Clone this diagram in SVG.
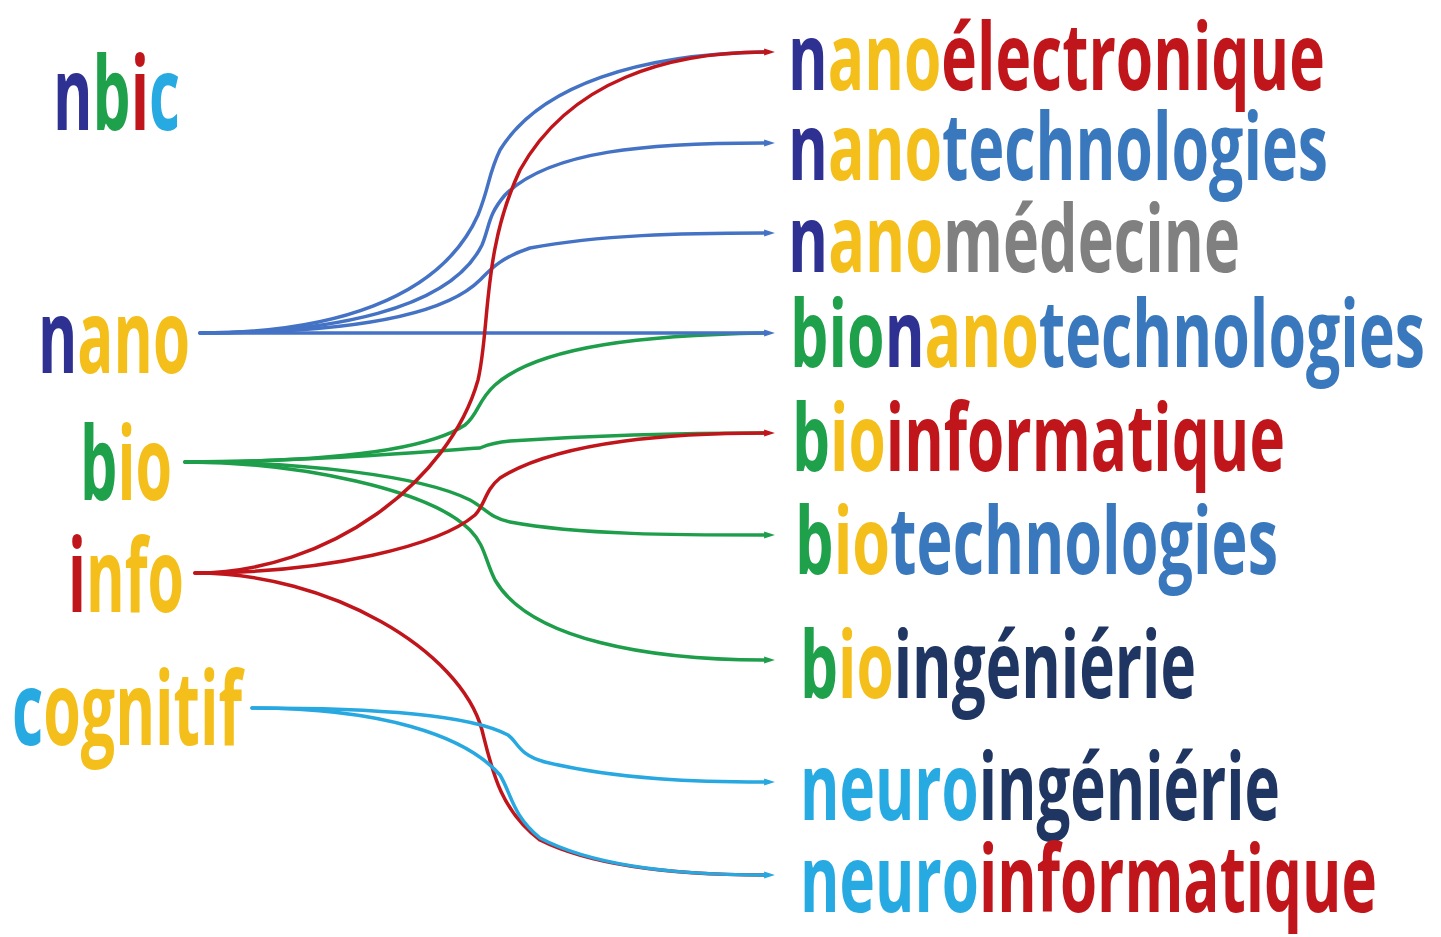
<svg xmlns="http://www.w3.org/2000/svg" width="1441" height="937" viewBox="0 0 1441 937">
<style>
text{font-family:"Open Sans","Noto Sans","DejaVu Sans",sans-serif;font-weight:700}
.L{font-size:102px}
.R{font-size:93px}
.nv{fill:#2e3192}.ye{fill:#f4bf1a}.gr{fill:#1fa04a}.rd{fill:#c0161b}.cy{fill:#27a9e1}.bl{fill:#3a78bd}.gy{fill:#808080}.dk{fill:#1f3663}
.c{fill:none;stroke-width:3.5;stroke-linecap:round}
.cb{stroke:#4472c4}.cg{stroke:#1e9e4a}.cr{stroke:#c0161b}.cc{stroke:#27a8e0}
</style>
<defs>
<marker id="ab" viewBox="0 0 12 10" refX="1" refY="5" markerWidth="11" markerHeight="9" markerUnits="userSpaceOnUse" orient="auto"><path d="M0,1 L12,5 L0,9 z" fill="#4472c4"/></marker>
<marker id="ag" viewBox="0 0 12 10" refX="1" refY="5" markerWidth="11" markerHeight="9" markerUnits="userSpaceOnUse" orient="auto"><path d="M0,1 L12,5 L0,9 z" fill="#1e9e4a"/></marker>
<marker id="ar" viewBox="0 0 12 10" refX="1" refY="5" markerWidth="11" markerHeight="9" markerUnits="userSpaceOnUse" orient="auto"><path d="M0,1 L12,5 L0,9 z" fill="#c0161b"/></marker>
<marker id="ac" viewBox="0 0 12 10" refX="1" refY="5" markerWidth="11" markerHeight="9" markerUnits="userSpaceOnUse" orient="auto"><path d="M0,1 L12,5 L0,9 z" fill="#27a8e0"/></marker>
</defs>
<rect width="1441" height="937" fill="#ffffff"/>

<g id="connectors">
<path class="c cb" d="M200,333 C330,333 440,300 478,215 C490,185 488,175 500,150 C540,85 640,54 765,52"/>
<path class="c cb" d="M200,333 C330,333 450,310 482,245 C490,225 488,215 505,195 C550,150 650,143 765,143" marker-end="url(#ab)"/>
<path class="c cb" d="M200,333 C330,333 440,320 480,280 C490,270 500,258 530,248 C600,235 680,233 765,233" marker-end="url(#ab)"/>
<path class="c cg" d="M185,462 C300,462 420,455 465,425 C478,415 478,400 495,385 C540,345 650,335 765,333"/>
<path class="c cb" d="M200,333 L765,333" marker-end="url(#ab)"/>
<path class="c cg" d="M185,462 C300,462 420,452 480,448 C485,446 490,443 510,441 C600,435 700,433 765,433"/>
<path class="c cg" d="M185,462 C300,462 420,475 470,500 C485,508 490,518 510,522 C580,535 680,535 765,535" marker-end="url(#ag)"/>
<path class="c cg" d="M185,462 C300,462 430,490 470,530 C485,545 485,560 495,580 C530,640 650,660 765,660" marker-end="url(#ag)"/>
<path class="c cr" d="M195,573 C330,573 450,480 478,380 C490,330 482,250 520,170 C570,80 670,52 765,52" marker-end="url(#ar)"/>
<path class="c cr" d="M195,573 C330,573 440,545 475,515 C485,505 485,490 500,478 C560,440 680,433 765,433" marker-end="url(#ar)"/>
<path class="c cr" d="M195,573 C330,573 460,650 482,730 C492,770 500,810 540,840 C600,870 700,875 765,875"/>
<path class="c cc" d="M252,708 C380,708 470,715 508,735 C518,742 518,755 545,762 C620,780 700,782 765,782" marker-end="url(#ac)"/>
<path class="c cc" d="M252,708 C380,708 465,735 500,775 C512,795 512,815 540,838 C600,870 700,875 765,875" marker-end="url(#ac)"/>
</g>

<g id="nbic"><text class="L" x="53" y="130" textLength="127" lengthAdjust="spacingAndGlyphs"><tspan class="nv">n</tspan><tspan class="gr">b</tspan><tspan class="rd">i</tspan><tspan class="cy">c</tspan></text></g>
<g id="nano"><text class="L" x="38" y="373" textLength="152" lengthAdjust="spacingAndGlyphs"><tspan class="nv">n</tspan><tspan class="ye">ano</tspan></text></g>
<g id="bio"><text class="L" x="80" y="500" textLength="92" lengthAdjust="spacingAndGlyphs"><tspan class="gr">b</tspan><tspan class="ye">io</tspan></text></g>
<g id="info"><text class="L" x="68" y="612" textLength="116" lengthAdjust="spacingAndGlyphs"><tspan class="rd">i</tspan><tspan class="ye">nfo</tspan></text></g>
<g id="cognitif"><text class="L" x="12" y="745" textLength="230" lengthAdjust="spacingAndGlyphs"><tspan class="cy">c</tspan><tspan class="ye">ognitif</tspan></text></g>

<g id="nanoelectronique"><text class="R" x="788" y="90" textLength="537" lengthAdjust="spacingAndGlyphs"><tspan class="nv">n</tspan><tspan class="ye">ano</tspan><tspan class="rd">électronique</tspan></text></g>
<g id="nanotechnologies"><text class="R" x="788" y="180" textLength="540" lengthAdjust="spacingAndGlyphs"><tspan class="nv">n</tspan><tspan class="ye">ano</tspan><tspan class="bl">technologies</tspan></text></g>
<g id="nanomedecine"><text class="R" x="788" y="272" textLength="452" lengthAdjust="spacingAndGlyphs"><tspan class="nv">n</tspan><tspan class="ye">ano</tspan><tspan class="gy">médecine</tspan></text></g>
<g id="bionanotechnologies"><text class="R" x="790" y="367" textLength="635" lengthAdjust="spacingAndGlyphs"><tspan class="gr">bio</tspan><tspan class="nv">n</tspan><tspan class="ye">ano</tspan><tspan class="bl">technologies</tspan></text></g>
<g id="bioinformatique"><text class="R" x="792" y="471" textLength="493" lengthAdjust="spacingAndGlyphs"><tspan class="gr">b</tspan><tspan class="ye">io</tspan><tspan class="rd">informatique</tspan></text></g>
<g id="biotechnologies"><text class="R" x="795" y="574" textLength="483" lengthAdjust="spacingAndGlyphs"><tspan class="gr">b</tspan><tspan class="ye">io</tspan><tspan class="bl">technologies</tspan></text></g>
<g id="bioingenierie"><text class="R" x="800" y="698" textLength="396" lengthAdjust="spacingAndGlyphs"><tspan class="gr">b</tspan><tspan class="ye">io</tspan><tspan class="dk">ingéniérie</tspan></text></g>
<g id="neuroingenierie"><text class="R" x="800" y="820" textLength="480" lengthAdjust="spacingAndGlyphs"><tspan class="cy">neuro</tspan><tspan class="dk">ingéniérie</tspan></text></g>
<g id="neuroinformatique"><text class="R" x="800" y="912" textLength="577" lengthAdjust="spacingAndGlyphs"><tspan class="cy">neuro</tspan><tspan class="rd">informatique</tspan></text></g>
</svg>
